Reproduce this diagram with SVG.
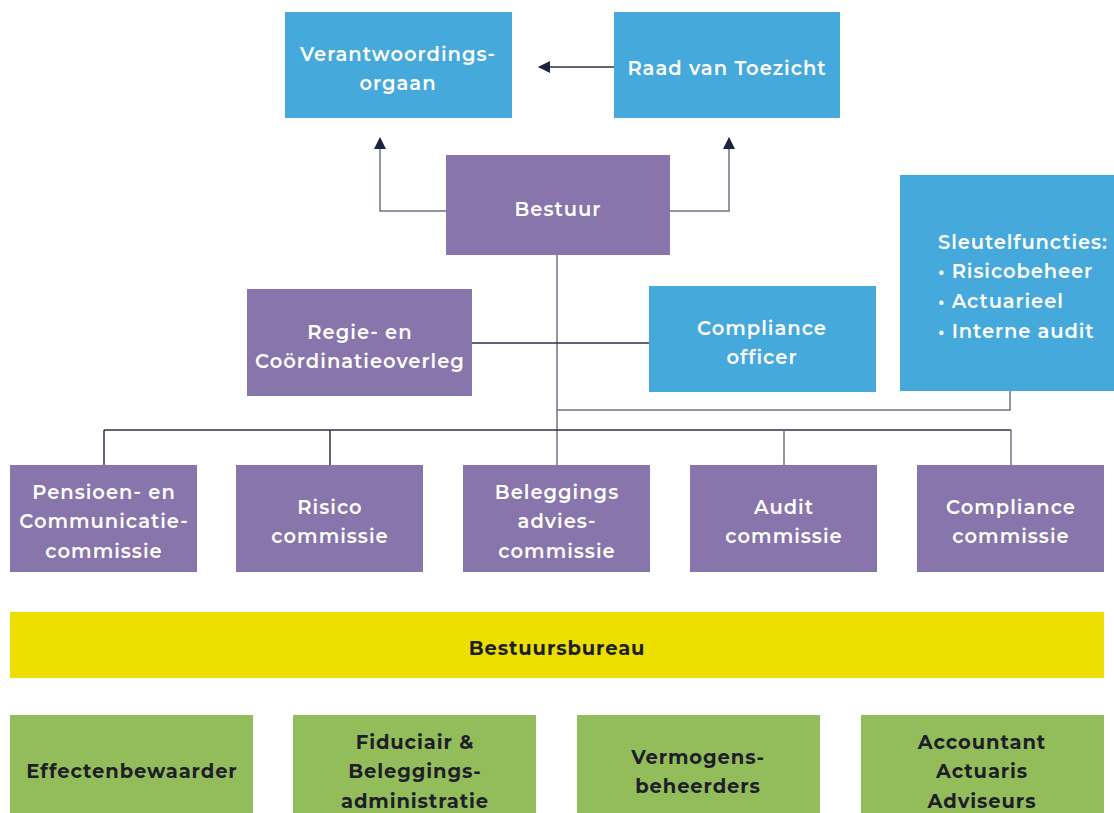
<svg xmlns="http://www.w3.org/2000/svg" width="1114" height="813" viewBox="0 0 1114 813">
<defs>
<marker id="ah" viewBox="0 0 12 12" refX="11" refY="6" markerWidth="12" markerHeight="12" markerUnits="userSpaceOnUse" orient="auto">
<path d="M0,0 L12,6 L0,12 Z" fill="#1c2340"/>
</marker>
<style>
.blue{fill:#46a9dc}
.purple{fill:#8775ab}
.yellow{fill:#ecdf00}
.green{fill:#93bd5a}
.wt{font-family:Montserrat,"Open Sans","Noto Sans",sans-serif;font-weight:600;font-size:19.5px;letter-spacing:1px;fill:#ffffff;text-anchor:middle}
.wl{font-family:Montserrat,"Open Sans","Noto Sans",sans-serif;font-weight:600;font-size:19.5px;letter-spacing:0.9px;fill:#ffffff}
.dt{font-family:Montserrat,"Open Sans","Noto Sans",sans-serif;font-weight:700;font-size:19.5px;letter-spacing:0.9px;fill:#1e1e28;text-anchor:middle}
.ln{fill:none;stroke:#2b3044;stroke-width:1.5}
.lg{fill:none;stroke:#6f7382;stroke-width:1.5}
</style>
</defs>
<g id="connectors">
<line class="ln" x1="614" y1="67" x2="539" y2="67" marker-end="url(#ah)"/>
<polyline class="lg" points="446,211 380,211 380,138" marker-end="url(#ah)"/>
<polyline class="lg" points="670,211 729,211 729,138" marker-end="url(#ah)"/>
<line class="lg" x1="557" y1="255" x2="557" y2="465"/>
<line class="ln" x1="472" y1="343" x2="649" y2="343"/>
<polyline class="lg" points="1010,391 1010,410 557,410"/>
<line class="ln" x1="104" y1="430" x2="1011" y2="430"/>
<line class="ln" x1="104" y1="430" x2="104" y2="465"/>
<line class="ln" x1="330" y1="430" x2="330" y2="465"/>
<line class="lg" x1="784" y1="430" x2="784" y2="465"/>
<line class="lg" x1="1011" y1="430" x2="1011" y2="465"/>
</g>
<g id="verantwoordingsorgaan">
<rect class="blue" x="285" y="12" width="227" height="106"/>
<text class="wt" x="398" y="61">Verantwoordings-</text>
<text class="wt" x="398" y="90">orgaan</text>
</g>
<g id="raad-van-toezicht">
<rect class="blue" x="614" y="12" width="226" height="106"/>
<text class="wt" x="727" y="75">Raad van Toezicht</text>
</g>
<g id="bestuur">
<rect class="purple" x="446" y="155" width="224" height="100"/>
<text class="wt" x="558" y="216">Bestuur</text>
</g>
<g id="regie">
<rect class="purple" x="247" y="289" width="225" height="107"/>
<text class="wt" x="360" y="339">Regie- en</text>
<text class="wt" x="360" y="368">Coördinatieoverleg</text>
</g>
<g id="compliance-officer">
<rect class="blue" x="649" y="286" width="227" height="106"/>
<text class="wt" x="762" y="335">Compliance</text>
<text class="wt" x="762" y="364">officer</text>
</g>
<g id="sleutelfuncties">
<rect class="blue" x="900" y="175" width="214" height="216"/>
<text class="wl" x="938" y="249">Sleutelfuncties:</text>
<text class="wl" x="938" y="278">• Risicobeheer</text>
<text class="wl" x="938" y="308">• Actuarieel</text>
<text class="wl" x="938" y="338">• Interne audit</text>
</g>
<g id="pensioen-commissie">
<rect class="purple" x="10" y="465" width="187" height="107"/>
<text class="wt" x="104" y="499">Pensioen- en</text>
<text class="wt" x="104" y="528">Communicatie-</text>
<text class="wt" x="104" y="558">commissie</text>
</g>
<g id="risico-commissie">
<rect class="purple" x="236" y="465" width="187" height="107"/>
<text class="wt" x="330" y="514">Risico</text>
<text class="wt" x="330" y="543">commissie</text>
</g>
<g id="beleggings-commissie">
<rect class="purple" x="463" y="465" width="187" height="107"/>
<text class="wt" x="557" y="499">Beleggings</text>
<text class="wt" x="557" y="528">advies-</text>
<text class="wt" x="557" y="558">commissie</text>
</g>
<g id="audit-commissie">
<rect class="purple" x="690" y="465" width="187" height="107"/>
<text class="wt" x="784" y="514">Audit</text>
<text class="wt" x="784" y="543">commissie</text>
</g>
<g id="compliance-commissie">
<rect class="purple" x="917" y="465" width="187" height="107"/>
<text class="wt" x="1011" y="514">Compliance</text>
<text class="wt" x="1011" y="543">commissie</text>
</g>
<g id="bestuursbureau">
<rect class="yellow" x="10" y="612" width="1094" height="66"/>
<text class="dt" x="557" y="655">Bestuursbureau</text>
</g>
<g id="effectenbewaarder">
<rect class="green" x="10" y="715" width="243" height="98"/>
<text class="dt" x="132" y="778">Effectenbewaarder</text>
</g>
<g id="fiduciair">
<rect class="green" x="293" y="715" width="243" height="98"/>
<text class="dt" x="415" y="749">Fiduciair &amp;</text>
<text class="dt" x="415" y="778">Beleggings-</text>
<text class="dt" x="415" y="808">administratie</text>
</g>
<g id="vermogensbeheerders">
<rect class="green" x="577" y="715" width="243" height="98"/>
<text class="dt" x="698" y="764">Vermogens-</text>
<text class="dt" x="698" y="793">beheerders</text>
</g>
<g id="accountant">
<rect class="green" x="861" y="715" width="243" height="98"/>
<text class="dt" x="982" y="749">Accountant</text>
<text class="dt" x="982" y="778">Actuaris</text>
<text class="dt" x="982" y="808">Adviseurs</text>
</g>
</svg>
